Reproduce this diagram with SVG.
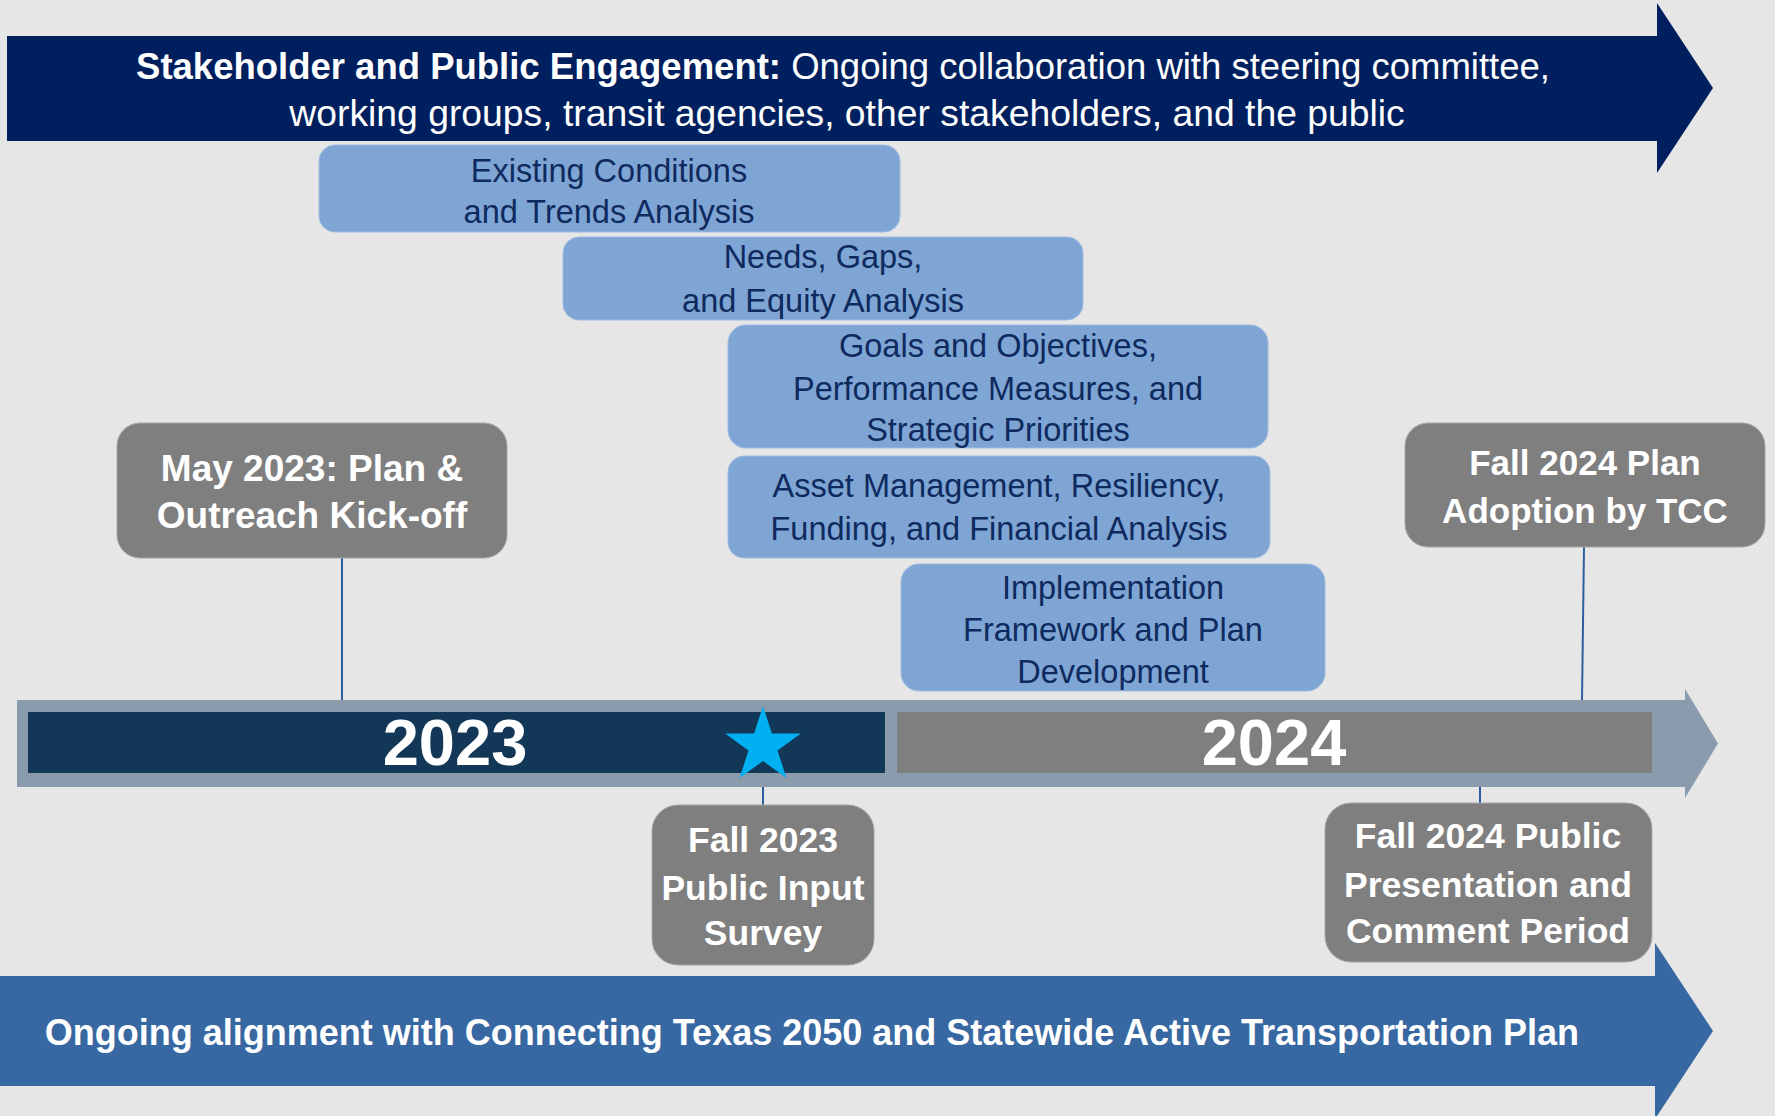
<svg xmlns="http://www.w3.org/2000/svg" width="1775" height="1116" viewBox="0 0 1775 1116">
<style>
.bg{fill:#E6E6E6}
.task rect{fill:#7EA5D4;stroke:#9DBBE0;stroke-width:1}
.task text{font-family:"Liberation Sans",Arial,sans-serif;font-size:32.5px;fill:#0E2A5E;text-anchor:middle}
.ms rect{fill:#7F7F7F;stroke:#A6A6A6;stroke-width:1}
.ms text{font-family:"Liberation Sans",Arial,sans-serif;font-weight:bold;fill:#FFFFFF;text-anchor:middle}
.yr{font-family:"Liberation Sans",Arial,sans-serif;font-weight:bold;font-size:65px;fill:#FFFFFF;text-anchor:middle}
.ban{font-family:"Liberation Sans",Arial,sans-serif;fill:#FFFFFF;text-anchor:middle}
#connectors line{stroke:#2F5E9E;stroke-width:2}
</style>
<rect class="bg" x="0" y="0" width="1775" height="1116"/>

<g id="top-banner">
<polygon points="7,36 1657,36 1657,3 1713,88 1657,173 1657,141 7,141" fill="#001F5E"/>
<text class="ban" x="843" y="79" font-size="36.5"><tspan font-weight="bold">Stakeholder and Public Engagement:</tspan> Ongoing collaboration with steering committee,</text>
<text class="ban" x="847" y="126" font-size="37.3">working groups, transit agencies, other stakeholders, and the public</text>
</g>

<g id="bottom-banner">
<polygon points="0,976 1655,976 1655,943 1713,1031 1655,1119 1655,1086 0,1086" fill="#3868A2"/>
<text class="ban" x="812" y="1045" font-size="36" font-weight="bold">Ongoing alignment with Connecting Texas 2050 and Statewide Active Transportation Plan</text>
</g>

<g id="connectors">
<line x1="342" y1="558" x2="342" y2="701"/>
<line x1="763" y1="786" x2="763" y2="805"/>
<line x1="1584" y1="547" x2="1582" y2="701"/>
<line x1="1480" y1="786" x2="1480" y2="803"/>
</g>

<g id="timeline">
<polygon points="17,700 1685,700 1685,689 1718,743.5 1685,798 1685,787 17,787" fill="#8A9BAE"/>
<rect x="28" y="712" width="857" height="61" fill="#123757"/>
<rect x="897" y="712" width="755" height="61" fill="#7F7F7F"/>
<text class="yr" x="455" y="765">2023</text>
<text class="yr" x="1274" y="765">2024</text>
<polygon id="star" points="763,706 771.9,733.5 800.9,733.5 777.5,750.5 786.4,778 763,761 739.6,778 748.5,750.5 725.1,733.5 754.1,733.5" fill="#00B0F0"/>
</g>

<g id="task-existing" class="task">
<rect x="319" y="145" width="581" height="87" rx="16"/>
<text x="609" y="182" font-size="33">Existing Conditions</text>
<text x="609" y="223" font-size="33">and Trends Analysis</text>
</g>
<g id="task-needs" class="task">
<rect x="563" y="237" width="520" height="83" rx="16"/>
<text x="823" y="268">Needs, Gaps,</text>
<text x="823" y="312">and Equity Analysis</text>
</g>
<g id="task-goals" class="task">
<rect x="728" y="325" width="540" height="123" rx="18"/>
<text x="998" y="357">Goals and Objectives,</text>
<text x="998" y="400">Performance Measures, and</text>
<text x="998" y="441">Strategic Priorities</text>
</g>
<g id="task-asset" class="task">
<rect x="728" y="456" width="542" height="102" rx="16"/>
<text x="999" y="497">Asset Management, Resiliency,</text>
<text x="999" y="540">Funding, and Financial Analysis</text>
</g>
<g id="task-implementation" class="task">
<rect x="901" y="564" width="424" height="127" rx="18"/>
<text x="1113" y="599">Implementation</text>
<text x="1113" y="641">Framework and Plan</text>
<text x="1113" y="683">Development</text>
</g>

<g id="ms-may2023" class="ms">
<rect x="117" y="423" width="390" height="135" rx="23"/>
<text x="312" y="481" font-size="37">May 2023: Plan &amp;</text>
<text x="312" y="528" font-size="37">Outreach Kick-off</text>
</g>
<g id="ms-fall2023" class="ms">
<rect x="652" y="805" width="222" height="160" rx="26"/>
<text x="763" y="852" font-size="35.5">Fall 2023</text>
<text x="763" y="900" font-size="35.5">Public Input</text>
<text x="763" y="945" font-size="35.5">Survey</text>
</g>
<g id="ms-fall2024-adoption" class="ms">
<rect x="1405" y="423" width="360" height="124" rx="23"/>
<text x="1585" y="475" font-size="35">Fall 2024 Plan</text>
<text x="1585" y="523" font-size="35">Adoption by TCC</text>
</g>
<g id="ms-fall2024-public" class="ms">
<rect x="1325" y="803" width="327" height="159" rx="26"/>
<text x="1488" y="848" font-size="35.5">Fall 2024 Public</text>
<text x="1488" y="897" font-size="35.5">Presentation and</text>
<text x="1488" y="943" font-size="35.5">Comment Period</text>
</g>
</svg>
